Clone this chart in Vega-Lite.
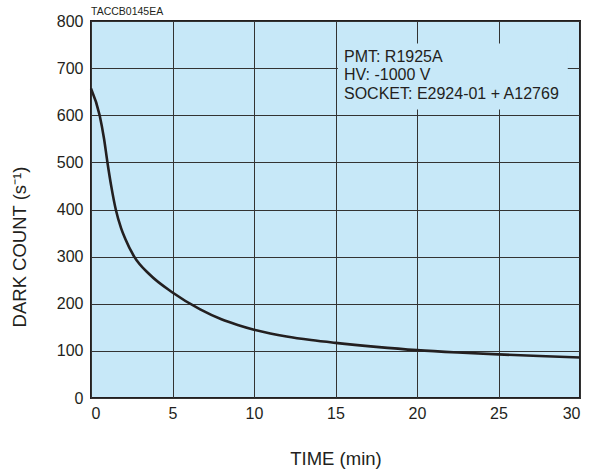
{
  "$schema": "https://vega.github.io/schema/vega-lite/v6.json",
  "autosize": {"type": "none"},
  "width": 489,
  "height": 377,
  "padding": {"left": 91, "top": 21, "right": 12, "bottom": 77},
  "background": "white",
  "title": {
    "text": "TACCB0145EA",
    "anchor": "start",
    "frame": "group",
    "fontSize": 10.5,
    "fontWeight": "normal",
    "font": "Liberation Sans",
    "color": "#231f20",
    "baseline": "alphabetic",
    "offset": -12
  },
  "config": {
    "view": {"fill": "#c7e8f8", "stroke": "#231f20", "strokeWidth": 2},
    "axis": {
      "labelFont": "Liberation Sans",
      "titleFont": "Liberation Sans",
      "labelFontSize": 16,
      "titleFontSize": 18.5,
      "titleFontWeight": "normal",
      "labelColor": "#231f20",
      "titleColor": "#231f20",
      "domain": false,
      "ticks": false,
      "gridColor": "#333333",
      "gridWidth": 1,
      "gridOpacity": 1
    }
  },
  "datasets": {
    "curve": [
      {"t": 0, "v": 657},
      {"t": 0.53, "v": 600},
      {"t": 0.8, "v": 550},
      {"t": 1.0, "v": 502},
      {"t": 1.25, "v": 448},
      {"t": 1.52, "v": 400},
      {"t": 1.85, "v": 360},
      {"t": 2.1, "v": 338},
      {"t": 2.65, "v": 300},
      {"t": 3.6, "v": 262},
      {"t": 5.0, "v": 224},
      {"t": 6.7, "v": 188},
      {"t": 8, "v": 167},
      {"t": 9, "v": 155},
      {"t": 10, "v": 145},
      {"t": 11, "v": 137},
      {"t": 12, "v": 130.5},
      {"t": 13.5, "v": 123},
      {"t": 15, "v": 117},
      {"t": 17.5, "v": 108.5},
      {"t": 20, "v": 101.5},
      {"t": 22.5, "v": 96.5},
      {"t": 25, "v": 92.5},
      {"t": 27.5, "v": 89},
      {"t": 30, "v": 86}
    ],
    "box": [{"x1": 15.15, "x2": 29.25, "y1": 612, "y2": 752}],
    "notes": [
      {"t": 15.52, "v": 713, "label": "PMT: R1925A"},
      {"t": 15.52, "v": 675, "label": "HV: -1000 V"},
      {"t": 15.52, "v": 634, "label": "SOCKET: E2924-01 + A12769"}
    ]
  },
  "layer": [
    {
      "data": {"name": "box"},
      "mark": {"type": "rect", "fill": "#c7e8f8", "stroke": null},
      "encoding": {
        "x": {"field": "x1", "type": "quantitative", "scale": {"domain": [0, 30], "nice": false},
          "axis": {"values": [0, 5, 10, 15, 20, 25, 30], "title": "TIME (min)", "labelPadding": 7, "titlePadding": 28, "grid": true}},
        "x2": {"field": "x2"},
        "y": {"field": "y1", "type": "quantitative", "scale": {"domain": [0, 800], "nice": false},
          "axis": {"values": [0, 100, 200, 300, 400, 500, 600, 700, 800], "title": "DARK COUNT (s⁻¹)", "labelPadding": 8, "grid": true, "titleX": -66, "titleY": 225.5, "titleAngle": 270, "titleAlign": "center", "titleBaseline": "alphabetic"}},
        "y2": {"field": "y2"}
      }
    },
    {
      "data": {"name": "curve"},
      "mark": {"type": "line", "color": "#231f20", "strokeWidth": 2.6, "interpolate": "monotone"},
      "encoding": {
        "x": {"field": "t", "type": "quantitative"},
        "y": {"field": "v", "type": "quantitative"}
      }
    },
    {
      "data": {"name": "notes"},
      "mark": {"type": "text", "align": "left", "baseline": "alphabetic", "font": "Liberation Sans", "fontSize": 16, "color": "#231f20"},
      "encoding": {
        "x": {"field": "t", "type": "quantitative"},
        "y": {"field": "v", "type": "quantitative"},
        "text": {"field": "label"}
      }
    }
  ]
}
